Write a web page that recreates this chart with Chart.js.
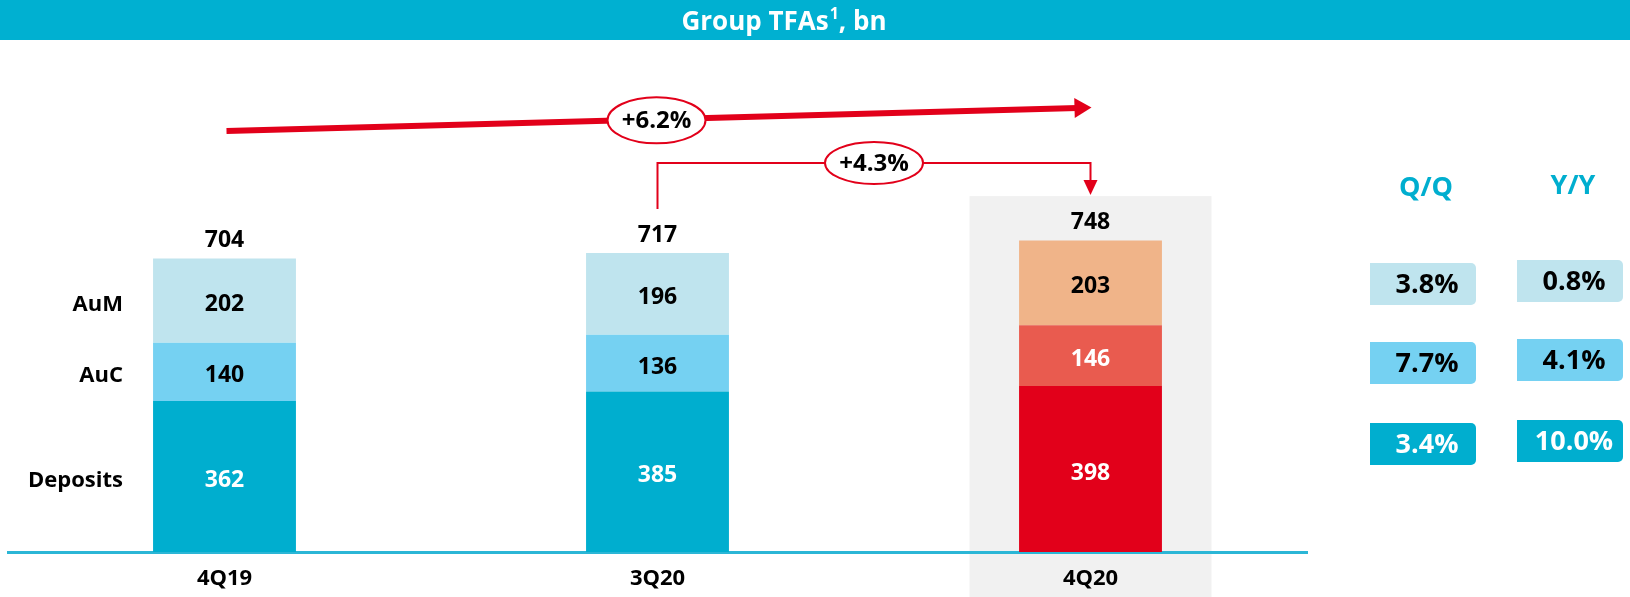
<!DOCTYPE html>
<html><head><meta charset="utf-8">
<script src="https://cdn.jsdelivr.net/npm/chart.js@4/dist/chart.umd.min.js"></script>
<style>html,body{margin:0;padding:0;background:#fff;overflow:hidden}#wrap{width:1630px;height:597px;position:relative}</style>
</head><body><div id="wrap"><canvas id="c" width="1630" height="597"></canvas></div>
<script>
// ---- data ----
const categories = ['4Q19', '3Q20', '4Q20'];
const deposits = [362, 385, 398];
const auc = [140, 136, 146];
const aum = [202, 196, 203];
const totals = [704, 717, 748];
const seriesNames = ['Deposits', 'AuC', 'AuM'];
const growthLabels = ['+6.2%', '+4.3%'];
const qqLabels = ['3.8%', '7.7%', '3.4%'];   // AuM, AuC, Deposits
const yyLabels = ['0.8%', '4.1%', '10.0%'];  // AuM, AuC, Deposits
const panelHeaders = ['Q/Q', 'Y/Y'];
const titleMain = 'Group TFAs', titleSup = '1', titleTail = ', bn';

// ---- styles ----
const FONT = '"Open Sans", "DejaVu Sans", sans-serif';
const BLUE = '#00AECF', LBLUE = '#75D1F2', VLBLUE = '#BFE4EE';
const RED = '#E2001A', LRED = '#E95B4F', PEACH = '#F0B489';
const depColors = [BLUE, BLUE, RED];
const aucColors = [LBLUE, LBLUE, LRED];
const aumColors = [VLBLUE, VLBLUE, PEACH];
const textColors = [['#fff', '#fff', '#fff'], ['#000', '#000', '#fff'], ['#000', '#000', '#000']];
const boxColors = [VLBLUE, LBLUE, BLUE];
const boxText = ['#000', '#000', '#fff'];

function arrowHead(ctx, tipX, tipY, dirX, dirY, len, half) {
  const nx = -dirY, ny = dirX;
  const bx = tipX - dirX * len, by = tipY - dirY * len;
  ctx.beginPath();
  ctx.moveTo(tipX, tipY);
  ctx.lineTo(bx + nx * half, by + ny * half);
  ctx.lineTo(bx - nx * half, by - ny * half);
  ctx.closePath();
  ctx.fill();
}
function ellipseLabel(ctx, cx, cy, rx, ry, text) {
  ctx.save();
  ctx.beginPath();
  ctx.ellipse(cx, cy, rx, ry, 0, 0, Math.PI * 2);
  ctx.fillStyle = '#fff';
  ctx.fill();
  ctx.lineWidth = 2;
  ctx.strokeStyle = RED;
  ctx.stroke();
  ctx.fillStyle = '#000';
  ctx.font = 'bold 24px ' + FONT;
  ctx.textAlign = 'center';
  ctx.textBaseline = 'middle';
  ctx.fillText(text, cx, cy + 1);
  ctx.restore();
}

const decor = {
  id: 'decor',
  beforeDraw(chart) {
    const ctx = chart.ctx, xs = chart.scales.x, ys = chart.scales.y;
    const cx = xs.getPixelForValue(2);
    const top = ys.getPixelForValue(totals[2]) - 44;
    ctx.save();
    ctx.fillStyle = '#F1F1F1';
    ctx.fillRect(cx - 121, top, 242, chart.height - top);
    ctx.restore();
  },
  afterDatasetsDraw(chart) {
    const ctx = chart.ctx, xs = chart.scales.x, ys = chart.scales.y;
    ctx.save();
    ctx.textAlign = 'center';
    ctx.textBaseline = 'middle';
    ctx.font = 'bold 23px ' + FONT;
    chart.data.datasets.forEach((ds, di) => {
      const meta = chart.getDatasetMeta(di);
      meta.data.forEach((el, i) => {
        ctx.fillStyle = textColors[di][i];
        ctx.fillText(String(ds.data[i]), el.x, (el.y + el.base) / 2 + 4);
      });
    });
    // totals
    ctx.fillStyle = '#000';
    totals.forEach((t, i) => {
      ctx.fillText(String(t), xs.getPixelForValue(i), ys.getPixelForValue(t) - 18);
    });
    // series names at left
    ctx.textAlign = 'right';
    ctx.font = 'bold 22px ' + FONT;
    chart.data.datasets.forEach((ds, di) => {
      const el = chart.getDatasetMeta(di).data[0];
      ctx.fillText(seriesNames[di], 123, (el.y + el.base) / 2 + 4);
    });
    ctx.restore();
  },
  afterDraw(chart) {
    const ctx = chart.ctx, xs = chart.scales.x, ys = chart.scales.y;
    const x0 = xs.getPixelForValue(0), x1 = xs.getPixelForValue(1), x2 = xs.getPixelForValue(2);
    ctx.save();
    // big arrow
    const sy = 131, ey = 107.5;
    const sx = x0 + 2, tipX = x2 + 1;
    const dx = tipX - sx, dy = ey - sy, L = Math.hypot(dx, dy);
    const ux = dx / L, uy = dy / L;
    ctx.strokeStyle = RED; ctx.fillStyle = RED;
    ctx.lineWidth = 6;
    ctx.beginPath();
    ctx.moveTo(sx, sy);
    ctx.lineTo(tipX - ux * 14, ey - uy * 14);
    ctx.stroke();
    arrowHead(ctx, tipX, ey, ux, uy, 17, 10);
    const mx = (x0 + x2) / 2;
    const my = sy + (mx - sx) / dx * dy;
    ellipseLabel(ctx, mx - 1, my + 1, 49, 23, growthLabels[0]);

    // bracket arrow
    const by = 163;
    const botL = ys.getPixelForValue(totals[1]) - 44;
    const tipY = ys.getPixelForValue(totals[2]) - 45;
    ctx.lineWidth = 2;
    ctx.beginPath();
    ctx.moveTo(x1, botL);
    ctx.lineTo(x1, by);
    ctx.lineTo(x2, by);
    ctx.lineTo(x2, tipY - 12);
    ctx.stroke();
    arrowHead(ctx, x2, tipY, 0, 1, 15, 7);
    ellipseLabel(ctx, (x1 + x2) / 2, by, 49, 21, growthLabels[1]);

    // title bar
    ctx.fillStyle = '#00B0D1';
    ctx.fillRect(0, 0, chart.width, 40);
    ctx.fillStyle = '#fff';
    ctx.textBaseline = 'alphabetic';
    ctx.textAlign = 'left';
    ctx.font = 'bold 26px ' + FONT;
    const w1 = ctx.measureText(titleMain).width;
    const w3 = ctx.measureText(titleTail).width;
    ctx.font = 'bold 16px ' + FONT;
    const w2 = ctx.measureText(titleSup).width + 1;
    const start = 784 - (w1 + w2 + w3) / 2;
    ctx.font = 'bold 26px ' + FONT;
    ctx.fillText(titleMain, start, 30);
    ctx.font = 'bold 16px ' + FONT;
    ctx.fillText(titleSup, start + w1 + 1, 19);
    ctx.font = 'bold 26px ' + FONT;
    ctx.fillText(titleTail, start + w1 + w2, 30);

    // right panel
    ctx.textAlign = 'center';
    ctx.textBaseline = 'middle';
    ctx.fillStyle = BLUE;
    ctx.font = 'bold 27px ' + FONT;
    ctx.fillText(panelHeaders[0], 1426, 188);
    ctx.fillText(panelHeaders[1], 1573, 186);
    const cols = [{x: 1370, tops: [263, 342, 423], labels: qqLabels},
                  {x: 1517, tops: [260, 339, 420], labels: yyLabels}];
    ctx.font = 'bold 27px ' + FONT;
    cols.forEach(col => {
      col.labels.forEach((lab, r) => {
        ctx.fillStyle = boxColors[r];
        ctx.beginPath();
        ctx.roundRect(col.x, col.tops[r], 106, 42, [0, 5, 5, 0]);
        ctx.fill();
        ctx.fillStyle = boxText[r];
        ctx.fillText(lab, col.x + 57, col.tops[r] + 22);
      });
    });
    ctx.restore();
  }
};

new Chart(document.getElementById('c'), {
  type: 'bar',
  data: {
    labels: categories,
    datasets: [
      {label: seriesNames[0], data: deposits, backgroundColor: depColors},
      {label: seriesNames[1], data: auc, backgroundColor: aucColors},
      {label: seriesNames[2], data: aum, backgroundColor: aumColors}
    ]
  },
  options: {
    responsive: false,
    animation: false,
    devicePixelRatio: 1,
    layout: {padding: {left: 8, right: 323, top: 135, bottom: 0}},
    datasets: {bar: {categoryPercentage: 1, barPercentage: 0.33}},
    plugins: {legend: {display: false}, tooltip: {enabled: false}, title: {display: false}},
    scales: {
      x: {
        stacked: true,
        grid: {display: false, drawTicks: false},
        border: {display: true, color: '#2BB6D6', width: 3},
        ticks: {color: '#000', font: {family: FONT, size: 22, weight: 'bold'}, padding: 14},
        afterFit(scale) { scale.height = 45; }
      },
      y: {stacked: true, display: false, min: 0, max: 1000}
    }
  },
  plugins: [decor]
});
</script>
</body></html>
